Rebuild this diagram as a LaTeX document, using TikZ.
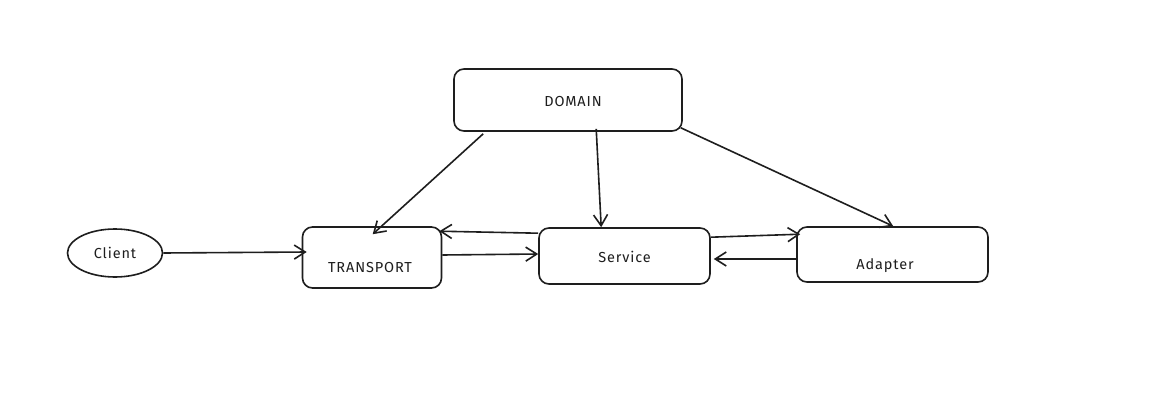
\documentclass[tikz,border=0pt]{standalone}
\usepackage{fontspec}
\setmainfont{Fira Sans}[LetterSpace=6]
\usetikzlibrary{arrows.meta,shapes.geometric}
\definecolor{ink}{HTML}{1E1E1E}
\begin{document}
\begin{tikzpicture}[x=1pt,y=-1pt,
  box/.style={draw=ink,line width=1.6pt,rounded corners=10pt,inner sep=0pt},
  lbl/.style={font=\fontsize{14.5}{17}\selectfont,text=ink,inner sep=0pt},
  conn/.style={draw=ink,line width=1.6pt,-{Straight Barb[length=11pt,width=14pt]}}]
\useasboundingbox[fill=white] (0,0) rectangle (1156,412);
\node[box,minimum width=228pt,minimum height=62pt,
  label={[lbl,xshift=5pt,yshift=-2pt]center:DOMAIN}] (dom) at (568,100) {};
\node[box,minimum width=139pt,minimum height=61pt,
  label={[lbl,xshift=-2pt,yshift=-10.5pt]center:TRANSPORT}] (tr) at (372,257.5) {};
\node[box,minimum width=171pt,minimum height=56pt,
  label={[lbl,yshift=-1pt]center:Service}] (svc) at (624.5,256) {};
\node[box,minimum width=191pt,minimum height=55pt,
  label={[lbl,xshift=-7.5pt,yshift=-11.5pt]center:Adapter}] (ad) at (892.5,254.5) {};
\node[ellipse,draw=ink,line width=1.6pt,minimum width=95pt,minimum height=48pt,inner sep=0pt,
  font=\fontsize{14.5}{17}\selectfont,text=ink] (cl) at (115,253) {Client};

\draw[conn] (cl.east) -- ([xshift=5pt,yshift=5.5pt]tr.west);
\draw[conn] ([xshift=30pt,yshift=-2pt]dom.south west) -- ([xshift=71pt,yshift=-8pt]tr.north west);
\draw[conn] ([xshift=143pt,yshift=3pt]dom.south west) -- ([xshift=63pt]svc.north west);
\draw[conn] ([xshift=-2pt,yshift=4pt]dom.south east) -- ([xshift=97pt]ad.north west);
\draw[conn] ([yshift=2.5pt]tr.east) -- ([yshift=2pt]svc.west);
\draw[conn] ([yshift=-6pt]svc.north west) -- ([xshift=-3pt,yshift=-5pt]tr.north east);
\draw[conn] ([yshift=-10pt]svc.north east) -- ([xshift=4pt,yshift=-8pt]ad.north west);
\draw[conn] ([yshift=-4.5pt]ad.west) -- ([xshift=3pt,yshift=-3pt]svc.east);
\end{tikzpicture}
\end{document}
